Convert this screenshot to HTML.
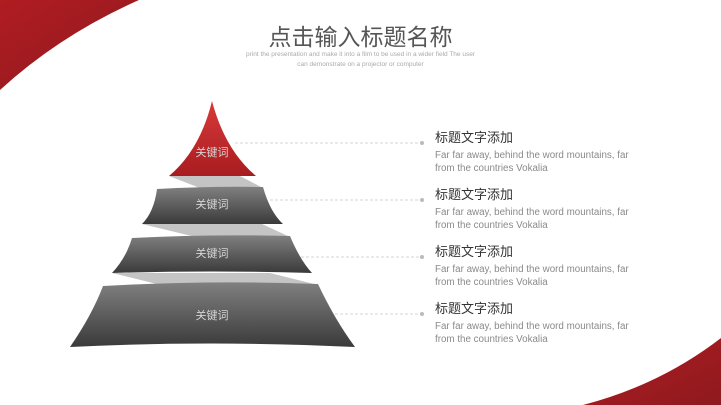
<!DOCTYPE html>
<html><head><meta charset="utf-8"><style>
body{margin:0;width:721px;height:405px;overflow:hidden;background:#fff;font-family:"Liberation Sans","Noto Sans CJK SC",sans-serif}
svg{position:absolute;left:0;top:0}
.t{position:absolute;left:435px;color:#333;font-size:13px}
.d{position:absolute;left:435px;color:#8a8a8a;font-size:9.8px;line-height:13px;white-space:nowrap}
</style></head><body>
<svg width="721" height="405">
<defs>
<linearGradient id="r" x1="0" y1="0" x2="0" y2="1"><stop offset="0" stop-color="#d83a3a"/><stop offset="1" stop-color="#a81c20"/></linearGradient>
<linearGradient id="g" x1="0" y1="0" x2="0" y2="1"><stop offset="0" stop-color="#808080"/><stop offset="1" stop-color="#3a3a3a"/></linearGradient>
<linearGradient id="sw" x1="0" y1="0" x2="1" y2="1"><stop offset="0" stop-color="#b01c22"/><stop offset="1" stop-color="#8e1a1e"/></linearGradient>
</defs>
<path d="M0 0 L139 0 Q60 35 0 90 Z" fill="url(#sw)"/>
<path d="M583 405 Q660 385 721 338 L721 405 Z" fill="url(#sw)"/>
<g stroke="#d4d4d4" stroke-dasharray="3,2" stroke-width="1">
<line x1="235" y1="143" x2="422" y2="143"/><line x1="270" y1="200" x2="422" y2="200"/>
<line x1="296" y1="257" x2="422" y2="257"/><line x1="330" y1="314" x2="422" y2="314"/>
</g>
<g fill="#bbb"><circle cx="422" cy="143" r="2"/><circle cx="422" cy="200" r="2"/><circle cx="422" cy="257" r="2"/><circle cx="422" cy="314" r="2"/></g>
<g fill="#c4c4c4">
<polygon points="169,176 240,176 263,188 205,190"/>
<polygon points="142,224 262,224 290,237 200,238"/>
<polygon points="112,273 270,273 318,285 165,286"/>
</g>
<path d="M212 101 Q200 150 169 176 L256 176 Q225 150 212 101 Z" fill="url(#r)"/>
<path d="M157 189 Q210 186 263 187 Q270 212 283 224 L142 224 Q154 212 157 189 Z" fill="url(#g)"/>
<path d="M132 238 Q210 234 290 236 Q300 260 312 273 Q210 270 112 273 Q126 258 132 238 Z" fill="url(#g)"/>
<path d="M103 286 Q210 280 318 284 Q335 320 355 347 Q210 340 70 347 Q92 315 103 286 Z" fill="url(#g)"/>
<g fill="#d6d6d6" font-size="11" text-anchor="middle" font-family="Liberation Sans,Noto Sans CJK SC,sans-serif">
<text x="212" y="156">关键词</text><text x="212" y="208">关键词</text><text x="212" y="257">关键词</text><text x="212" y="319">关键词</text>
</g>
</svg>
<div style="position:absolute;left:0;width:721px;top:18px;text-align:center;font-size:23px;color:#555">点击输入标题名称</div>
<div style="position:absolute;left:0;width:721px;top:50px;text-align:center;font-size:6.5px;color:#aaa;line-height:10px">print the presentation and make it into a film to be used in a wider field The user<br>can demonstrate on a projector or computer</div>
<div class="t" style="top:127px">标题文字添加</div><div class="d" style="top:149px">Far far away, behind the word mountains, far<br>from the countries Vokalia</div>
<div class="t" style="top:184px">标题文字添加</div><div class="d" style="top:206px">Far far away, behind the word mountains, far<br>from the countries Vokalia</div>
<div class="t" style="top:241px">标题文字添加</div><div class="d" style="top:263px">Far far away, behind the word mountains, far<br>from the countries Vokalia</div>
<div class="t" style="top:298px">标题文字添加</div><div class="d" style="top:320px">Far far away, behind the word mountains, far<br>from the countries Vokalia</div>
</body></html>
